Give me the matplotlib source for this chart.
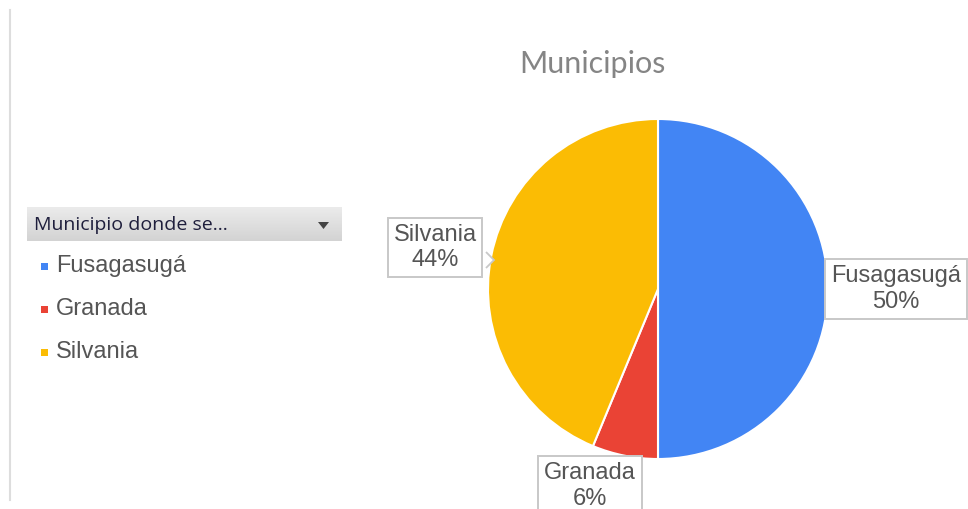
import numpy as np
import matplotlib.pyplot as plt
from matplotlib.patches import Rectangle, Polygon
from matplotlib.colors import LinearSegmentedColormap

municipios = ['Fusagasugá', 'Granada', 'Silvania']
respuestas = [8, 1, 7]
colores = ['#4285F4', '#EA4335', '#FBBC04']
titulo = 'Municipios'
cabecera = 'Municipio donde se...'

plt.rcParams['font.family'] = ['Liberation Sans', 'DejaVu Sans']

W, H = 968, 509
fig = plt.figure(figsize=(W / 100, H / 100), dpi=100)

# pie: center (658, 289) px, radius 170 px
cx, cy, r = 658, 289, 170
ax = fig.add_axes([(cx - r) / W, (H - cy - r) / H, 2 * r / W, 2 * r / H])
wedges, _ = ax.pie(respuestas, colors=colores, startangle=90, counterclock=False,
                   radius=1, wedgeprops=dict(edgecolor='white', linewidth=1.5))
ax.set_xlim(-1, 1)
ax.set_ylim(-1, 1)
ax.set_aspect('equal')
ax.axis('off')

def px(x, y):
    return (x - cx) / r, (cy - y) / r

total = sum(respuestas)
pos_labels = [px(896, 289), px(590, 486), px(435, 247.5)]
for nombre, val, (tx, ty) in zip(municipios, respuestas, pos_labels):
    ax.text(tx, ty, f'{nombre}\n{round(100 * val / total)}%', ha='center', va='center',
            fontsize=17, color='#555555', linespacing=1.2, clip_on=False, zorder=5,
            bbox=dict(boxstyle='square,pad=0.25', fc='white', ec='#c8c8c8', lw=1.4))

# little pointer of the Silvania callout
ax.add_patch(Polygon([px(486, 252), px(494, 260), px(486, 268)], closed=False,
                     fc='white', ec='#c8c8c8', lw=1.3, zorder=6, clip_on=False))

fig.text(592 / W, 1 - 64 / H, titulo, ha='center', va='center', fontsize=22,
         color='#858585', family=['Lato', 'DejaVu Sans'])

# left border line
fig.add_artist(plt.Line2D([10 / W, 10 / W], [1 - 500 / H, 1 - 10 / H],
                          color='#dddddd', lw=1.5))

# legend header bar with a soft gradient
hax = fig.add_axes([27 / W, 1 - 241 / H, 315 / W, 34 / H])
grad = np.linspace(0, 1, 50).reshape(-1, 1)
hax.imshow(grad, aspect='auto', cmap=LinearSegmentedColormap.from_list('g', ['#ebebeb', '#d3d3d3']),
           extent=[0, 1, 0, 1], origin='upper')
hax.set_xlim(0, 1)
hax.set_ylim(0, 1)
hax.axis('off')
fig.text(34 / W, 1 - 225 / H, cabecera, ha='left', va='center', fontsize=14,
         color='#1e1e3c', family=['Open Sans', 'DejaVu Sans'])
fig.add_artist(Polygon([[318 / W, 1 - 222 / H], [329 / W, 1 - 222 / H], [323.5 / W, 1 - 229 / H]],
                       closed=True, transform=fig.transFigure, fc='#444444', ec='none'))

# legend items
for i, (nombre, col) in enumerate(zip(municipios, colores)):
    y = 266 + i * 43
    fig.add_artist(Rectangle((41 / W, 1 - (y + 3.5) / H), 7 / W, 7 / H,
                             transform=fig.transFigure, fc=col, ec='none'))
    fig.text(56 / W, 1 - y / H, nombre, ha='left', va='center', fontsize=17,
             color='#555555')

fig.savefig('out.png', dpi=100)
